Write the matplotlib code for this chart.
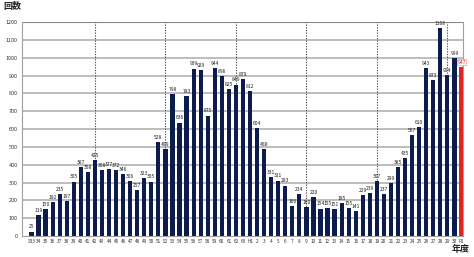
import matplotlib
matplotlib.use("Agg")
import matplotlib.pyplot as plt
import numpy as np

plt.rcParams['font.family'] = ['Noto Sans CJK JP', 'DejaVu Sans']

# fiscal year labels (Showa 33 .. Showa 63, Heisei 1 .. 30, Reiwa 1)
years = ["S33"] + [str(y) for y in range(34, 64)] + ["H1"] + [str(y) for y in range(2, 31)] + ["R1"]

counts = [25, 119, 150, 192, 235, 197, 305, 387, 358, 425,
          368, 377, 372, 346, 306, 257, 323, 305, 528, 489,
          798, 636, 783, 939, 929, 675, 944, 896, 825, 849,
          879, 812, 604, 488, 331, 311, 283, 166, 234, 160,
          220, 154, 155, 151, 185, 155, 141, 229, 239, 307,
          237, 299, 385, 435, 567, 610, 943, 873, 1168, 904,
          999, 947]

# every ten years a dotted marker line
decade_marks = ["42", "52", "62", "9", "19", "29"]

navy = "#0c1c4c"
red = "#e32222"

fig = plt.figure(figsize=(4.74, 2.57), dpi=100)
ax = fig.add_axes([0.0464, 0.0817, 0.9306, 0.8327])

x = np.arange(len(years))
colors = [navy] * (len(years) - 1) + [red]

ax.set_ylim(0, 1200)
ax.set_xlim(-1.35, len(years) - 0.77)
ax.set_yticks(range(0, 1201, 100))
for yv in range(100, 1200, 100):
    ax.axhline(yv, color="#b8b8b8", lw=1.3, zorder=0)
ax.axhline(1200, color="#888888", lw=1.5, zorder=0)

# decade lines (index of the label, searching after the previous one)
start = 0
for m in decade_marks:
    idx = years.index(m, start)
    start = idx + 1
    ax.axvline(idx, color="#555555", lw=0.8, ls=(0, (1.2, 1.2)), zorder=1)

ax.bar(x, counts, width=0.6, color=colors, zorder=2)

for i, v in enumerate(counts):
    if i == len(counts) - 1:
        ax.text(i, v + 12, str(v), ha="center", va="bottom", fontsize=3.6,
                color=red, zorder=4,
                bbox=dict(boxstyle="square,pad=0.1", fc="white", ec="#f08080", lw=0.4))
    else:
        ax.text(i, v + 12, str(v), ha="center", va="bottom", fontsize=3.6,
                color="#222222", zorder=3)

ax.set_xticks(x)
ax.set_xticklabels(years, fontsize=3.4, color="#333333")
ax.tick_params(axis="y", labelsize=3.9, length=0, pad=3, labelcolor="#333333")
ax.tick_params(axis="x", length=0, pad=2)

for s in ["left", "right", "bottom"]:
    ax.spines[s].set_color("#a0a0a0")
    ax.spines[s].set_linewidth(0.8)
ax.spines["top"].set_visible(False)

fig.text(3 / 474, 1 - 7 / 257, "回数", fontsize=6.5, fontweight="bold",
         ha="left", va="center", color="#222222")
fig.text(461 / 474, 1 - 249 / 257, "年度", fontsize=6.5, fontweight="bold",
         ha="center", va="center", color="#222222")

fig.savefig("out.png", dpi=100)
